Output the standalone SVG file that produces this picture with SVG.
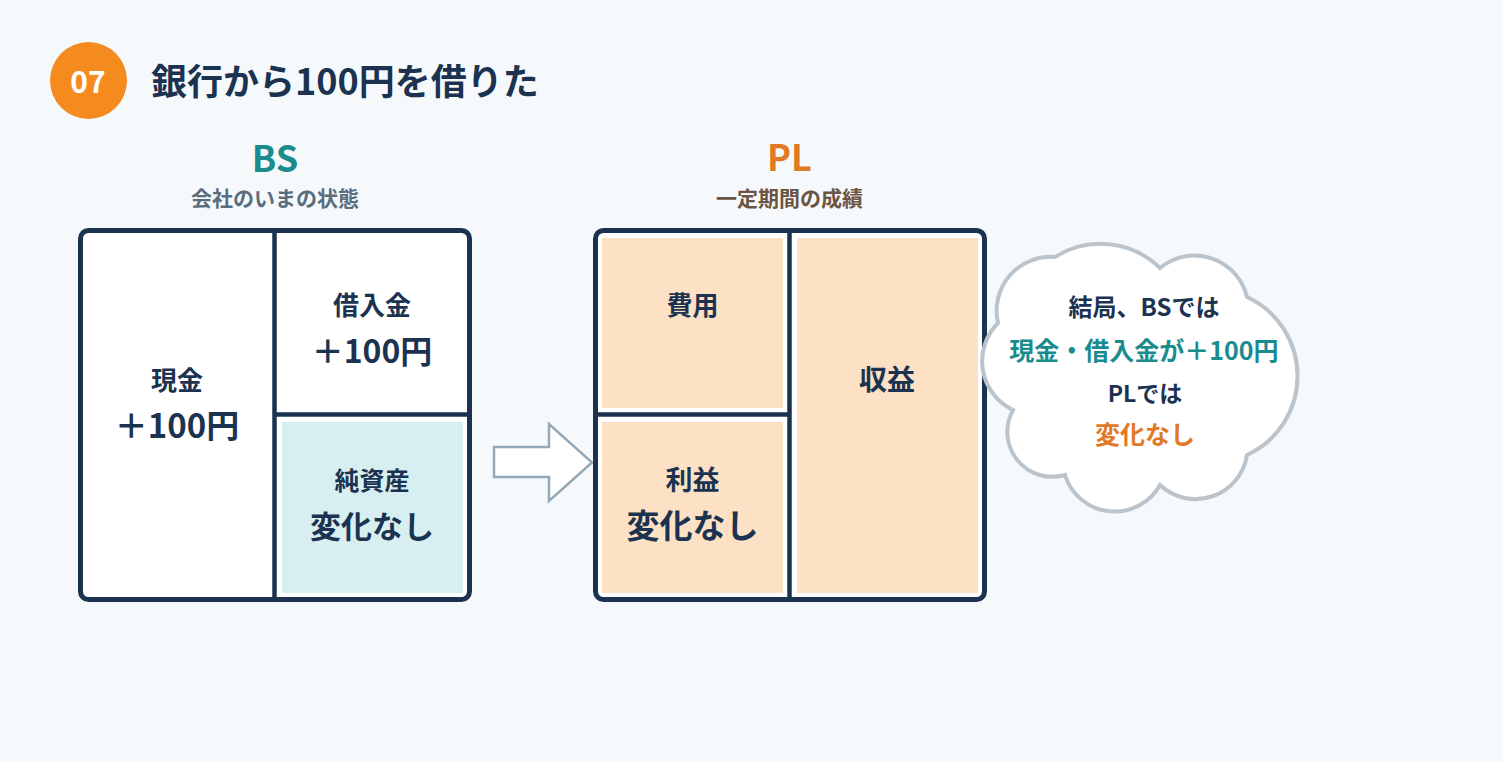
<svg xmlns="http://www.w3.org/2000/svg" width="1502" height="762" viewBox="0 0 1502 762">
<style>
text{font-family:"Noto Sans CJK JP","Noto Sans",sans-serif;font-weight:700;text-anchor:middle}
.navy{fill:#1b3350}
.frame{fill:#ffffff;stroke:#1b3350;stroke-width:5}
.div{stroke:#1b3350;stroke-width:4.5;fill:none}
.peach{fill:#fce1c4}
.teal{fill:#d8eff2}
</style>
<rect x="0" y="0" width="1502" height="762" fill="#f6f9fb"/>
<g id="title">
<circle cx="88.5" cy="80.5" r="38.5" fill="#f58b1f"/>
<text x="88" y="93" font-size="30" fill="#ffffff">07</text>
<text x="151" y="95" font-size="36" class="navy" style="text-anchor:start">銀行から100円を借りた</text>
</g>
<g id="bs-header">
<text x="275" y="172" font-size="36" fill="#1a8c8e">BS</text>
<text x="275" y="206" font-size="21" fill="#5a6d7f">会社のいまの状態</text>
</g>
<g id="pl-header">
<text x="789.5" y="171" font-size="36" fill="#e07a26">PL</text>
<text x="789.5" y="206" font-size="21" fill="#6b5444">一定期間の成績</text>
</g>
<g id="bs">
<rect class="frame" x="80.5" y="230.5" width="389" height="369" rx="8"/>
<rect class="teal" x="282" y="422" width="181" height="171"/>
<line class="div" x1="274.5" y1="231" x2="274.5" y2="599"/>
<line class="div" x1="274" y1="414.5" x2="469" y2="414.5"/>
<g id="bs-cash">
<text x="177" y="390" font-size="26" class="navy">現金</text>
<text x="177" y="438" font-size="33" class="navy">＋100円</text>
</g>
<g id="bs-loan">
<text x="372" y="315" font-size="26" class="navy">借入金</text>
<text x="372" y="363" font-size="32" class="navy">＋100円</text>
</g>
<g id="bs-equity">
<text x="372" y="490" font-size="25" class="navy">純資産</text>
<text x="372" y="538" font-size="31" class="navy">変化なし</text>
</g>
</g>
<g id="connectors">
<polygon points="494,447 549,447 549,424 592,462.5 549,501 549,477 494,477" fill="#ffffff" stroke="#94a8b7" stroke-width="2.5" stroke-linejoin="miter"/>
</g>
<g id="pl">
<rect class="frame" x="595.5" y="230.5" width="389" height="369" rx="8"/>
<rect class="peach" x="602" y="238" width="181" height="170"/>
<rect class="peach" x="602" y="422" width="181" height="171"/>
<rect class="peach" x="797" y="238" width="181" height="355"/>
<line class="div" x1="789.5" y1="231" x2="789.5" y2="599"/>
<line class="div" x1="596" y1="414.5" x2="790" y2="414.5"/>
<g id="pl-cost">
<text x="692.5" y="315" font-size="26" class="navy">費用</text>
</g>
<g id="pl-profit">
<text x="692.5" y="490" font-size="27" class="navy">利益</text>
<text x="692.5" y="538" font-size="33" class="navy">変化なし</text>
</g>
<g id="pl-revenue">
<text x="887" y="390" font-size="28" class="navy">収益</text>
</g>
</g>
<g id="cloud">
<path d="M 998 323 A 54 54 0 0 1 1055 257 A 85 85 0 0 1 1160 268 A 54 54 0 0 1 1247 297 A 87 87 0 0 1 1247 455 A 52 52 0 0 1 1160 485 A 52 52 0 0 1 1065 475 A 45 45 0 0 1 1013 410 A 54 54 0 0 1 998 323 Z" fill="#ffffff" stroke="#bcc4cb" stroke-width="4"/>
<text x="1144" y="316" font-size="24" class="navy">結局、BSでは</text>
<text x="1144" y="360" font-size="25" fill="#1a8c8e">現金・借入金が＋100円</text>
<text x="1145" y="402" font-size="23" class="navy">PLでは</text>
<text x="1145" y="444" font-size="25" fill="#e07a26">変化なし</text>
</g>
</svg>
